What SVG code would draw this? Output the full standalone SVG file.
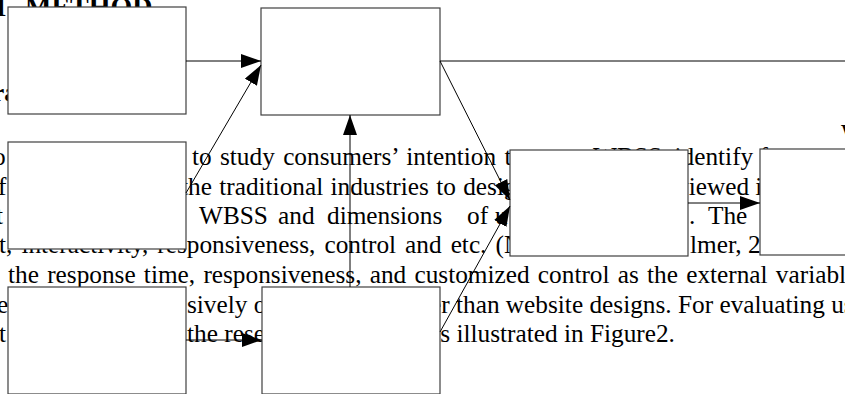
<svg xmlns="http://www.w3.org/2000/svg" width="845" height="394" viewBox="0 0 845 394">
<style>
.t{font-family:"Liberation Serif","Times New Roman",serif;font-size:25.3px;fill:#000}
.h{font-family:"Liberation Serif","Times New Roman",serif;font-size:28px;font-weight:bold;fill:#000}
.box{fill:#fff;stroke:#404040;stroke-width:1.2}
.c{stroke:#000;stroke-width:1;fill:none}
.a{marker-end:url(#ah)}
</style>
<defs>
<marker id="ah" markerUnits="userSpaceOnUse" markerWidth="20" markerHeight="14" refX="20" refY="7" orient="auto">
<path d="M0,0 L20,7 L0,14 z" fill="#000"/>
</marker>
</defs>
<rect width="845" height="394" fill="#fff"/>
<g id="background-text">
<text class="h" x="-16" y="16">H</text>
<text class="h" x="25" y="16">METHOD</text>
<text class="t" x="-7" y="101" font-weight="bold">ra</text>
<text class="t" x="841" y="142">W</text>
<text class="t" x="-7" y="165">o</text>
<text class="t" x="192" y="165" word-spacing="2">to study consumers’ intention to</text>
<text class="t" x="593" y="165">WBSS, identify f</text>
<text class="t" x="-2" y="195">f</text>
<text class="t" x="181" y="195" word-spacing="1">the traditional industries to design</text>
<text class="t" x="676" y="195">viewed i</text>
<text class="t" x="-4" y="224">t</text>
<text class="t" x="199" y="224">WBSS</text>
<text class="t" x="278" y="224">and</text>
<text class="t" x="327" y="224">dimensions</text>
<text class="t" x="467" y="224">of</text>
<text class="t" x="495" y="224">u</text>
<text class="t" x="689" y="224">.</text>
<text class="t" x="708" y="224">The</text>
<text class="t" x="-1" y="253" word-spacing="2.7">t, interactivity, responsiveness, control and etc. (N</text>
<text class="t" x="690" y="253">lmer, 2</text>
<text class="t" x="8" y="283" word-spacing="1.9">the response time, responsiveness, and customized control as the external variable</text>
<text class="t" x="-3" y="313">e</text>
<text class="t" x="187" y="313">sively o</text>
<text class="t" x="430" y="313">er than website designs. For evaluating us</text>
<text class="t" x="-1" y="342">t</text>
<text class="t" x="187" y="342">the rese</text>
<text class="t" x="429" y="342">as illustrated in Figure2.</text>
</g>
<g id="node-a"><rect class="box" x="8" y="7" width="178" height="107"/></g>
<g id="node-b"><rect class="box" x="261" y="8" width="179" height="107"/></g>
<g id="node-c"><rect class="box" x="8" y="142" width="178" height="107"/></g>
<g id="node-d"><rect class="box" x="8" y="287" width="178" height="107"/></g>
<g id="node-e"><rect class="box" x="262" y="287" width="178" height="107"/></g>
<g id="node-f"><rect class="box" x="510" y="150" width="178" height="106"/></g>
<g id="node-g"><rect class="box" x="760" y="149" width="100" height="106"/></g>
<g id="connectors">
<line class="c a" x1="186" y1="61" x2="261" y2="61"/>
<line class="c a" x1="186" y1="193" x2="261" y2="65"/>
<line class="c a" x1="350" y1="287" x2="350" y2="115"/>
<line class="c" x1="440" y1="61" x2="845" y2="61"/>
<line class="c a" x1="440" y1="61" x2="510" y2="200"/>
<line class="c a" x1="440" y1="332" x2="510" y2="206"/>
<line class="c a" x1="186" y1="340" x2="262" y2="340"/>
<line class="c a" x1="688" y1="203" x2="760" y2="203"/>
</g>
</svg>
